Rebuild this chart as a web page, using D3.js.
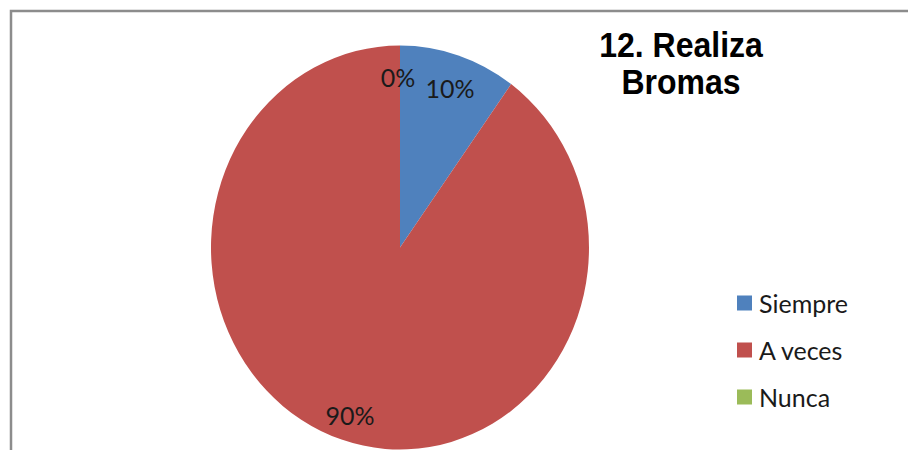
<!DOCTYPE html>
<html><head><meta charset="utf-8">
<script src="https://cdn.jsdelivr.net/npm/d3@7"></script>
<style>body{margin:0;background:#fff;}svg{display:block;}</style>
</head><body>
<script>
const categories = ["Siempre", "A veces", "Nunca"];
const values = [10, 90, 0];
const labels = ["10%", "90%", "0%"];
const colors = ["#4F81BD", "#C0504D", "#9BBB59"];
const titleLines = ["12. Realiza", "Bromas"];

const W = 908, H = 450;
const svg = d3.select("body").append("svg").attr("width", W).attr("height", H);

svg.append("rect").attr("x", 11).attr("y", 11).attr("width", 920).attr("height", 460)
  .attr("fill", "#fff").attr("stroke", "#8c8c8c").attr("stroke-width", 2.5);

const rx = 189, ry = 202, cx = 400, cy = 247.5;
const pie = d3.pie().sort(null).value(d => d)(values);
const arc = d3.arc().innerRadius(0).outerRadius(rx);
const g = svg.append("g").attr("transform", `translate(${cx},${cy}) scale(1,${ry/rx})`);
g.selectAll("path").data(pie).join("path")
  .attr("d", arc).attr("fill", (d, i) => colors[i]);

const labelPos = [
  {dx: 50, dy: -160},   // 10%
  {dx: -50, dy: 167},   // 90%
  {dx: -2, dy: -171}    // 0%
];
svg.selectAll("text.lbl").data(labels).join("text").attr("class", "lbl")
  .attr("x", (d, i) => cx + labelPos[i].dx).attr("y", (d, i) => cy + labelPos[i].dy)
  .attr("text-anchor", "middle").attr("dominant-baseline", "central")
  .attr("font-family", "Lato, 'Open Sans', sans-serif").attr("font-size", 25).attr("fill", "#1a1a1a")
  .text(d => d);

svg.selectAll("text.title").data(titleLines).join("text").attr("class", "title")
  .attr("transform", (d, i) => `translate(681, ${57 + i * 37}) scale(1,1.08)`)
  .attr("text-anchor", "middle")
  .attr("font-family", "'Liberation Sans', Arial, sans-serif").attr("font-weight", "bold")
  .attr("font-size", 32).attr("fill", "#000").text(d => d);

const leg = svg.selectAll("g.leg").data(categories).join("g").attr("class", "leg")
  .attr("transform", (d, i) => `translate(737, ${303 + i * 47})`);
leg.append("rect").attr("x", 0).attr("y", -7.5).attr("width", 15).attr("height", 15)
  .attr("fill", (d, i) => colors[i]);
leg.append("text").attr("x", 22).attr("y", 0).attr("dominant-baseline", "central")
  .attr("font-family", "Lato, 'Open Sans', sans-serif").attr("font-size", 25).attr("fill", "#1a1a1a")
  .text(d => d);
</script>
</body></html>
